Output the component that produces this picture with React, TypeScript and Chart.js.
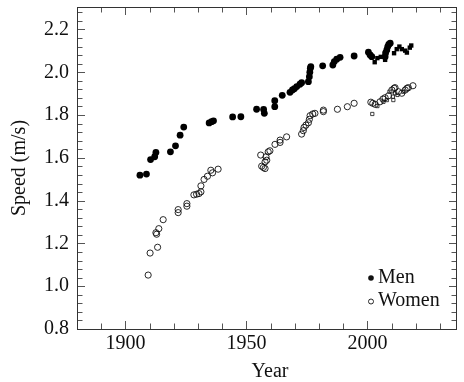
import { useEffect, useRef } from 'react';
import { Chart, registerables } from 'chart.js';
Chart.register(...registerables);

const menYears = [1906, 1908.7, 1910.4, 1912.1, 1912.6, 1918.6, 1920.7, 1922.6, 1924.1, 1934.6, 1935.6, 1936.4, 1944.3, 1947.7, 1954.2, 1957.1, 1957.4, 1961.7, 1961.7, 1964.8, 1968, 1969, 1969.8, 1970.8, 1972.1, 1972.8, 1975.6, 1976, 1976.2, 1976.4, 1976.6, 1981.5, 1985.7, 1986.3, 1987.3, 1988.7, 1994.5, 2000.4, 2001.1, 2001.8, 2007.3, 2007.5, 2008, 2008.4, 2008.8, 2009.4];
const menSpeeds = [1.519, 1.524, 1.592, 1.605, 1.625, 1.628, 1.656, 1.706, 1.744, 1.763, 1.769, 1.773, 1.791, 1.792, 1.827, 1.826, 1.808, 1.867, 1.839, 1.892, 1.906, 1.917, 1.923, 1.933, 1.944, 1.951, 1.956, 1.979, 2.0, 2.019, 2.026, 2.03, 2.034, 2.05, 2.061, 2.07, 2.076, 2.094, 2.081, 2.073, 2.073, 2.09, 2.104, 2.12, 2.13, 2.136];

const menOtherYears = [2003, 2004.1, 2005.5, 2007.3, 2011, 2012.1, 2013.2, 2014.2, 2015.6, 2016.3, 2017.5, 2018.1];
const menOtherSpeeds = [2.047, 2.066, 2.072, 2.058, 2.089, 2.108, 2.12, 2.108, 2.101, 2.092, 2.115, 2.125];

const womenYears = [1909.4, 1910.2, 1913.3, 1912.6, 1912.9, 1913.8, 1915.6, 1921.8, 1921.8, 1925.4, 1925.4, 1928.3, 1929.4, 1930.4, 1931.2, 1931.2, 1932.5, 1933.9, 1935.3, 1936, 1938.3, 1955.9, 1956.3, 1957, 1957.7, 1957.7, 1958.4, 1958.1, 1959, 1959.7, 1961.8, 1963.9, 1963.9, 1966.6, 1972.8, 1973.5, 1973.8, 1974.6, 1975.6, 1976, 1976.3, 1977.4, 1978.3, 1981.8, 1981.8, 1987.6, 1991.7, 1994.5, 2001.4, 2002.2, 2003.2, 2005.2, 2006.4, 2007.3, 2008.7, 2010.1, 2011, 2011.4, 2012.8, 2014.2, 2015.6, 2016.3, 2016.9, 2018.8];
const womenSpeeds = [1.052, 1.155, 1.182, 1.25, 1.243, 1.269, 1.311, 1.344, 1.358, 1.374, 1.386, 1.427, 1.43, 1.433, 1.441, 1.469, 1.499, 1.514, 1.542, 1.53, 1.547, 1.613, 1.561, 1.555, 1.55, 1.581, 1.589, 1.605, 1.628, 1.633, 1.663, 1.672, 1.683, 1.698, 1.711, 1.727, 1.742, 1.753, 1.764, 1.78, 1.797, 1.805, 1.808, 1.816, 1.823, 1.827, 1.839, 1.855, 1.86, 1.855, 1.85, 1.862, 1.875, 1.881, 1.89, 1.917, 1.925, 1.928, 1.909, 1.902, 1.917, 1.925, 1.928, 1.937];

const womenOtherYears = [2002, 2004.1, 2006.6, 2008, 2009.1, 2010.5, 2010.7, 2011.4, 2012.4, 2014.9];
const womenOtherSpeeds = [1.805, 1.842, 1.862, 1.87, 1.909, 1.886, 1.87, 1.902, 1.894, 1.909];

const xTickLabels = [1900, 1950, 2000];
const xMinorTicks = [1890, 1910, 1920, 1930, 1940, 1960, 1970, 1980, 1990, 2010, 2020, 2030];
const yTickLabels = [0.8, 1.0, 1.2, 1.4, 1.6, 1.8, 2.0, 2.2];
const legendLabels = ['Men', 'Women'];

const FONT = '"Liberation Serif", "DejaVu Serif", serif';

export default function App() {
  const ref = useRef<HTMLCanvasElement>(null);
  useEffect(() => {
    const toPts = (xs: number[], ys: number[]) => xs.map((x, i) => ({ x, y: ys[i] }));
    const framePlugin = {
      id: 'frame',
      beforeDatasetsDraw(chart: any) {
        const { ctx, chartArea: a, scales } = chart;
        const xs = scales.x, ys = scales.y;
        ctx.save();
        ctx.strokeStyle = '#555';
        ctx.lineWidth = 1;
        ctx.beginPath();
        const majL = 8, minL = 5.5;
        const vx = (v: number, len: number) => {
          const px = Math.round(xs.getPixelForValue(v)) + 0.5;
          ctx.moveTo(px, a.bottom); ctx.lineTo(px, a.bottom - len);
          ctx.moveTo(px, a.top); ctx.lineTo(px, a.top + len);
        };
        const hy = (v: number, len: number) => {
          const py = Math.round(ys.getPixelForValue(v)) + 0.5;
          ctx.moveTo(a.left, py); ctx.lineTo(a.left + len, py);
          ctx.moveTo(a.right, py); ctx.lineTo(a.right - len, py);
        };
        xTickLabels.forEach(v => vx(v, majL));
        xMinorTicks.forEach(v => vx(v, minL));
        yTickLabels.forEach(v => hy(v, majL));
        for (let i = 0; i < yTickLabels.length; i++) {
          for (let k = 1; k < 5; k++) {
            const v = yTickLabels[i] + k * 0.04;
            if (v < ys.max) hy(v, minL);
          }
        }
        ctx.stroke();
        ctx.strokeStyle = '#333';
        ctx.strokeRect(a.left + 0.5, a.top + 0.5, a.right - a.left - 1, a.bottom - a.top);
        // labels
        ctx.fillStyle = '#111';
        ctx.font = `20px ${FONT}`;
        ctx.textAlign = 'center';
        ctx.textBaseline = 'middle';
        xTickLabels.forEach(v => ctx.fillText(String(v), xs.getPixelForValue(v), a.bottom + 15));
        ctx.textAlign = 'right';
        yTickLabels.forEach(v => ctx.fillText(v.toFixed(1), a.left - 8, ys.getPixelForValue(v)));
        ctx.textAlign = 'center';
        ctx.fillText('Year', (a.left + a.right) / 2 + 3, a.bottom + 43);
        ctx.save();
        ctx.translate(20, (a.top + a.bottom) / 2);
        ctx.rotate(-Math.PI / 2);
        ctx.fillText('Speed (m/s)', 0, 0);
        ctx.restore();
        ctx.restore();
      },
      afterDatasetsDraw(chart: any) {
        const { ctx } = chart;
        ctx.save();
        ctx.font = `20px ${FONT}`;
        ctx.textAlign = 'left';
        ctx.textBaseline = 'middle';
        ctx.fillStyle = '#111';
        // Men
        ctx.beginPath();
        ctx.arc(371, 278, 2.8, 0, Math.PI * 2);
        ctx.fill();
        ctx.fillText(legendLabels[0], 378, 278);
        ctx.beginPath();
        ctx.arc(371, 301.5, 2.5, 0, Math.PI * 2);
        ctx.strokeStyle = '#111';
        ctx.lineWidth = 0.9;
        ctx.stroke();
        ctx.fillText(legendLabels[1], 378, 301);
        ctx.restore();
      },
    };
    const chart = new Chart(ref.current!, {
      type: 'scatter',
      data: {
        datasets: [
          { label: 'Men', data: toPts(menYears, menSpeeds), pointStyle: 'circle', pointRadius: 3.4, backgroundColor: '#000', borderColor: '#000', borderWidth: 0 },
          { label: 'Men (other)', data: toPts(menOtherYears, menOtherSpeeds), pointStyle: 'rect', pointRadius: 3.1, backgroundColor: '#000', borderColor: '#000', borderWidth: 0 },
          { label: 'Women', data: toPts(womenYears, womenSpeeds), pointStyle: 'circle', pointRadius: 3.1, backgroundColor: 'rgba(0,0,0,0)', borderColor: '#111', borderWidth: 0.9 },
          { label: 'Women (other)', data: toPts(womenOtherYears, womenOtherSpeeds), pointStyle: 'rect', pointRadius: 2.3, backgroundColor: 'rgba(0,0,0,0)', borderColor: '#111', borderWidth: 0.8 },
        ],
      },
      options: {
        responsive: false,
        animation: false,
        devicePixelRatio: 1,
        layout: { padding: { left: 77, right: 7, top: 7, bottom: 53 } },
        scales: {
          x: { type: 'linear', min: 1880, max: 2037, display: false },
          y: { type: 'linear', min: 0.8, max: 2.305, display: false },
        },
        plugins: { legend: { display: false }, tooltip: { enabled: false } },
      },
      plugins: [framePlugin],
    });
    return () => chart.destroy();
  }, []);
  return (
    <div style={{ position: 'fixed', left: 0, top: 0, width: 464, height: 382, background: '#fff' }}>
      <canvas ref={ref} width={464} height={382} style={{ width: 464, height: 382, display: 'block' }} />
    </div>
  );
}
